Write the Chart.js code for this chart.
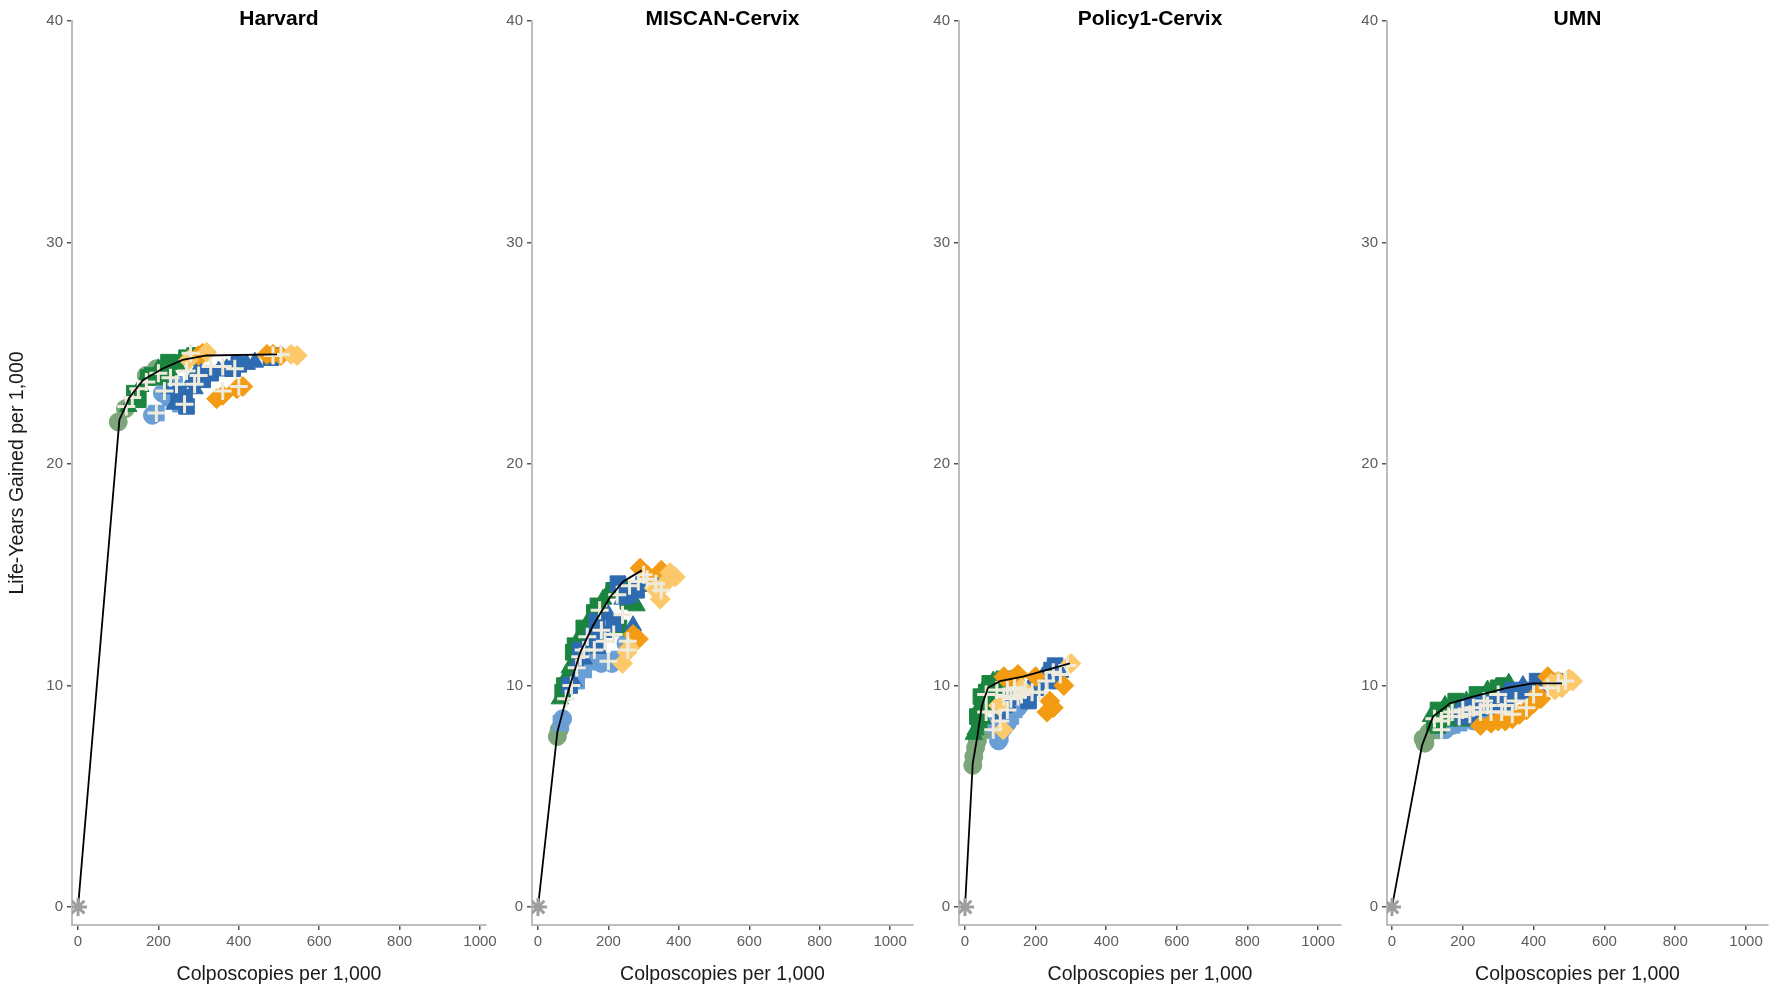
<!DOCTYPE html>
<html>
<head>
<meta charset="utf-8">
<script src="https://cdn.jsdelivr.net/npm/chart.js@4.4.1/dist/chart.umd.min.js"></script>
<style>
    html, body { margin: 0; padding: 0; background: #fff; overflow: hidden; }
    body { width: 1769px; height: 989px; position: relative; }
    canvas { position: absolute; top: 0; }
</style>
</head>
<body>
<canvas id="c0"></canvas>
<canvas id="c1"></canvas>
<canvas id="c2"></canvas>
<canvas id="c3"></canvas>
<script>
// Panels, axis ticks
const titles = ["Harvard", "MISCAN-Cervix", "Policy1-Cervix", "UMN"];
const xTicks = [0, 200, 400, 600, 800, 1000];
const yTicks = [0, 10, 20, 30, 40];
const origin = [[0, 0]];

// Harvard
const harvardFrontier = [[0, 0], [103, 22.0], [128, 23.0], [162, 23.8], [210, 24.3], [260, 24.7], [320, 24.9], [495, 24.95]];
const harvardSage = [[100, 21.9], [118, 22.5], [170, 24.0], [195, 24.3]];
const harvardLightBlue = [[185, 22.2], [255, 22.7], [210, 23.2], [240, 23.6], [310, 23.9], [195, 22.3], [225, 23.0]];
const harvardGreen = [[125, 22.6], [140, 23.2], [155, 23.5], [175, 23.9], [200, 24.3], [225, 24.6], [255, 24.7], [290, 24.9], [230, 24.1], [150, 22.9],
    [135, 22.9], [185, 24.0], [245, 24.5], [270, 24.8], [210, 23.8]];
const harvardBlue = [[230, 23.4], [265, 23.0], [280, 23.7], [330, 24.1], [370, 24.3], [400, 24.5], [420, 24.5], [490, 24.9], [300, 24.3],
    [250, 23.2], [290, 23.4], [310, 23.8], [350, 24.2], [385, 24.3], [440, 24.6], [480, 24.8], [240, 22.7], [270, 22.6]];
const harvardOrange = [[345, 22.95], [395, 23.4], [310, 25.0], [470, 24.95], [505, 24.9], [360, 23.1], [410, 23.5], [300, 24.9], [485, 24.95]];
const harvardLightOrange = [[320, 25.05], [530, 24.95], [545, 24.9], [275, 24.7]];
const harvardCross = [[150, 23.4], [170, 23.7], [200, 24.1], [215, 23.3], [245, 23.6], [265, 22.7], [270, 24.2], [300, 24.0], [330, 24.4], [360, 24.4], [360, 23.3], [400, 23.5], [505, 24.95], [280, 25.0],
    [120, 22.6], [135, 23.0], [230, 23.9], [290, 23.6], [390, 24.3], [485, 24.9], [195, 22.3]];

// MISCAN-Cervix
const miscanFrontier = [[0, 0], [55, 7.9], [85, 9.7], [120, 11.5], [156, 12.7], [205, 14.0], [242, 14.7], [295, 15.2]];
const miscanSage = [[55, 7.7], [60, 8.0], [90, 10.0], [95, 10.3], [150, 11.4]];
const miscanLightBlue = [[70, 8.5], [65, 8.3], [160, 11.1], [195, 11.1], [210, 11.0], [110, 10.2], [250, 11.9], [130, 10.7], [180, 11.0], [230, 11.2]];
const miscanGreen = [[62, 9.4], [75, 10.0], [90, 10.8], [100, 11.5], [115, 12.1], [130, 12.6], [150, 13.1], [170, 13.6], [200, 14.2], [255, 13.8], [280, 13.6], [230, 12.6], [140, 12.1],
    [70, 9.7], [85, 10.5], [105, 11.8], [125, 12.4], [160, 13.3], [185, 13.9], [215, 14.3], [245, 14.5]];
const miscanBlue = [[100, 10.2], [120, 11.6], [145, 12.0], [167, 12.9], [185, 12.4], [227, 14.6], [270, 12.7], [300, 14.6], [340, 14.8], [260, 14.1], [110, 11.0],
    [90, 10.0], [130, 11.2], [155, 12.2], [200, 13.2], [215, 12.8], [240, 13.9], [280, 14.3], [320, 14.7], [170, 11.8]];
const miscanOrange = [[290, 15.3], [285, 12.1], [350, 15.2], [265, 11.8], [310, 15.0], [270, 12.3]];
const miscanLightOrange = [[253, 11.5], [375, 15.1], [347, 13.9], [360, 14.6], [240, 11.0], [390, 14.9], [330, 14.4], [260, 11.7]];
const miscanCross = [[95, 10.0], [110, 10.8], [130, 11.6], [160, 11.6], [180, 12.5], [200, 11.1], [215, 12.3], [175, 13.4], [260, 14.5], [285, 14.7], [310, 14.8], [335, 14.6], [255, 12.0], [255, 11.6], [225, 14.1],
    [80, 9.4], [140, 12.2], [190, 12.0], [240, 13.2], [300, 15.0], [350, 14.3], [120, 11.3]];

// Policy1-Cervix
const policyFrontier = [[0, 0], [22, 6.5], [34, 7.6], [48, 9.1], [65, 9.9], [99, 10.2], [164, 10.4], [230, 10.7], [297, 11.0]];
const policySage = [[22, 6.4], [25, 6.8], [30, 7.2], [35, 7.5], [60, 8.0], [75, 8.1]];
const policyLightBlue = [[95, 7.5], [100, 7.8], [120, 8.3], [140, 8.9], [160, 9.2], [85, 8.2], [110, 8.1], [130, 8.6], [150, 9.0]];
const policyGreen = [[30, 8.0], [35, 8.6], [40, 9.0], [45, 9.5], [55, 9.9], [70, 10.1], [90, 10.2], [110, 10.3], [50, 8.5], [65, 9.2],
    [25, 7.8], [40, 8.3], [50, 9.2], [60, 9.7], [80, 10.2], [100, 10.0], [75, 9.5]];
const policyBlue = [[110, 9.0], [130, 9.5], [150, 9.8], [170, 9.6], [190, 10.1], [210, 10.2], [230, 10.5], [255, 10.9], [270, 10.6], [180, 9.3],
    [120, 9.2], [140, 9.7], [160, 10.0], [200, 9.9], [220, 10.4], [245, 10.7], [100, 8.7], [260, 10.2]];
const policyOrange = [[232, 8.8], [110, 10.4], [150, 10.5], [280, 10.0], [240, 9.3], [250, 9.0], [135, 10.3], [200, 10.4]];
const policyLightOrange = [[300, 11.0], [108, 8.0], [160, 9.9], [95, 9.1]];
const policyCross = [[60, 9.6], [90, 9.8], [110, 9.5], [130, 9.4], [150, 9.5], [170, 9.8], [190, 9.7], [210, 9.7], [80, 8.8], [80, 8.0], [100, 8.4], [270, 10.5], [290, 10.9],
    [120, 9.8], [140, 9.9], [160, 9.6], [230, 10.2], [250, 10.6], [60, 8.8], [120, 8.9]];

// UMN
const umnFrontier = [[0, 0], [85, 7.3], [116, 8.6], [164, 9.2], [229, 9.5], [325, 9.9], [398, 10.1], [480, 10.1]];
const umnSage = [[88, 7.6], [93, 7.4], [105, 7.9], [130, 8.0], [170, 8.2]];
const umnLightBlue = [[150, 8.0], [190, 8.3], [230, 8.4], [260, 8.6], [210, 8.8], [170, 8.2], [200, 8.5], [240, 8.7], [280, 8.7]];
const umnGreen = [[110, 8.6], [130, 8.9], [150, 9.1], [180, 9.3], [210, 9.3], [240, 9.6], [270, 9.8], [300, 9.9], [330, 10.1], [130, 8.2], [200, 8.4],
    [120, 8.3], [160, 8.8], [190, 9.0], [230, 9.4], [260, 9.5], [290, 9.7], [315, 10.0], [160, 8.4]];
const umnBlue = [[190, 8.9], [220, 9.1], [250, 9.2], [280, 9.2], [310, 9.5], [340, 9.8], [370, 10.0], [410, 10.2], [440, 10.1], [300, 8.6], [340, 8.9],
    [200, 8.6], [230, 8.8], [260, 9.0], [290, 9.0], [320, 9.2], [360, 9.5], [390, 9.8], [420, 9.9], [460, 10.2], [240, 8.5]];
const umnOrange = [[320, 8.4], [360, 8.7], [400, 9.2], [410, 9.6], [250, 8.2], [440, 10.4], [280, 8.3], [340, 8.5], [380, 8.9], [420, 9.4], [300, 8.4]];
const umnLightOrange = [[470, 10.2], [490, 10.1], [460, 9.8], [510, 10.2], [450, 10.1], [480, 9.9], [500, 10.3]];
const umnCross = [[120, 8.5], [160, 8.6], [190, 8.6], [220, 8.7], [250, 8.8], [280, 8.8], [310, 8.8], [340, 8.7], [380, 9.0], [260, 9.3], [300, 9.6], [440, 9.9], [470, 10.1],
    [140, 8.4], [170, 8.8], [200, 8.9], [230, 9.0], [270, 9.1], [320, 9.1], [350, 9.3], [400, 9.6], [490, 10.2], [140, 8.0]];

// Group tables per panel
const panelData = [
    [harvardSage, harvardLightBlue, harvardGreen, harvardBlue, harvardOrange, harvardLightOrange, harvardCross, harvardFrontier],
    [miscanSage, miscanLightBlue, miscanGreen, miscanBlue, miscanOrange, miscanLightOrange, miscanCross, miscanFrontier],
    [policySage, policyLightBlue, policyGreen, policyBlue, policyOrange, policyLightOrange, policyCross, policyFrontier],
    [umnSage, umnLightBlue, umnGreen, umnBlue, umnOrange, umnLightOrange, umnCross, umnFrontier]
];

// Plot area geometry of each panel (pixels)
const layout = [
    { left: 72, right: 486, axisW: 72, xMin: -15, xMax: 1015 },
    { left: 532, right: 913, axisW: 40, xMin: -17, xMax: 1065 },
    { left: 959, right: 1341, axisW: 40, xMin: -17, xMax: 1065 },
    { left: 1387, right: 1768, axisW: 40, xMin: -14, xMax: 1062 }
];

const FONT = '"Liberation Sans", Arial, Helvetica, sans-serif';
const toPts = arr => arr.map(p => ({ x: p[0], y: p[1] }));

// Title centred over the plot area
const panelTitle = {
    id: 'panelTitle',
    afterDraw(chart, args, opts) {
        const { ctx, chartArea } = chart;
        ctx.save();
        ctx.font = 'bold 21px ' + FONT;
        ctx.fillStyle = '#000';
        ctx.textAlign = 'center';
        ctx.textBaseline = 'middle';
        ctx.fillText(opts.text, (chartArea.left + chartArea.right) / 2, 19);
        ctx.restore();
    }
};

function markers(data, color, style, radius, order) {
    return {
        data: toPts(data),
        backgroundColor: color,
        borderColor: color,
        borderWidth: 1,
        pointStyle: style,
        pointRadius: radius,
        order: order
    };
}

const alt = (a, b) => ctx => (ctx.dataIndex % 2 ? b : a);

layout.forEach((L, i) => {
    const d = panelData[i];
    const canvas = document.getElementById('c' + i);
    const padRight = 30;
    canvas.width = L.axisW + (L.right - L.left) + padRight;
    canvas.height = 989;
    canvas.style.left = (L.left - L.axisW) + 'px';

    new Chart(canvas, {
        type: 'scatter',
        data: {
            datasets: [
                markers(d[0], '#7ca579', 'circle', 9, 8),
                markers(d[1], '#6a9fd6', alt('circle', 'rect'), alt(9, 11), 7),
                markers(d[2], '#1b8540', alt('triangle', 'rect'), alt(10, 11), 6),
                markers(d[3], '#2f6bb0', alt('triangle', 'rect'), alt(10, 11), 5),
                markers(d[4], '#f39b12', 'rectRot', 10, 4),
                markers(d[5], '#fcc86a', 'rectRot', 10, 3),
                {
                    data: toPts(d[6]),
                    pointStyle: 'cross',
                    pointRadius: 9,
                    borderWidth: 3,
                    borderColor: '#eeebdc',
                    backgroundColor: '#eeebdc',
                    order: 2
                },
                {
                    data: toPts(d[7]),
                    showLine: true,
                    borderColor: '#000',
                    borderWidth: 1.8,
                    pointRadius: 0,
                    fill: false,
                    order: 1
                },
                {
                    data: toPts(origin),
                    pointStyle: 'star',
                    pointRadius: 9,
                    borderWidth: 3,
                    borderColor: '#9e9e9e',
                    order: 0
                }
            ]
        },
        options: {
            responsive: false,
            animation: false,
            events: [],
            layout: { padding: { top: 21, right: padRight, bottom: 0, left: 0 } },
            plugins: {
                legend: { display: false },
                tooltip: { enabled: false },
                panelTitle: { text: titles[i] }
            },
            scales: {
                x: {
                    type: 'linear',
                    min: L.xMin,
                    max: L.xMax,
                    afterBuildTicks: s => { s.ticks = xTicks.map(v => ({ value: v })); },
                    afterFit: s => { s.height = 64; },
                    border: { display: true, color: '#bdbdbd', width: 2 },
                    grid: { drawOnChartArea: false, drawTicks: true, tickLength: 5, color: '#555', lineWidth: 1.5 },
                    ticks: { color: '#5c5c5c', font: { family: FONT, size: 15 }, padding: 3, maxRotation: 0, callback: v => String(v) },
                    title: { display: true, text: 'Colposcopies per 1,000', color: '#1a1a1a', font: { family: FONT, size: 19.5 }, padding: { top: 4, bottom: 3 } }
                },
                y: {
                    type: 'linear',
                    min: -0.81,
                    max: 40,
                    afterBuildTicks: s => { s.ticks = yTicks.map(v => ({ value: v })); },
                    afterFit: s => { s.width = L.axisW; },
                    border: { display: true, color: '#bdbdbd', width: 2 },
                    grid: { drawOnChartArea: false, drawTicks: true, tickLength: 5, color: '#555', lineWidth: 1.5 },
                    ticks: { color: '#5c5c5c', font: { family: FONT, size: 15 }, padding: 4, callback: v => String(v) },
                    title: { display: i === 0, text: 'Life-Years Gained per 1,000', color: '#1a1a1a', font: { family: FONT, size: 19.5 }, padding: { top: 6, bottom: 4 } }
                }
            }
        },
        plugins: [panelTitle]
    });
});
</script>
</body>
</html>
